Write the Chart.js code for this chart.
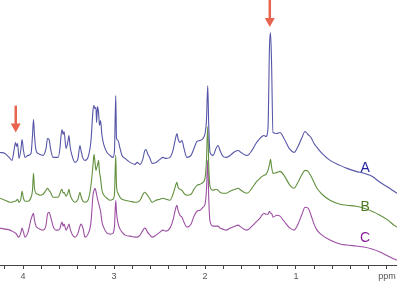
<!DOCTYPE html>
<html>
<head>
<meta charset="utf-8">
<script src="https://cdn.jsdelivr.net/npm/chart.js@4"></script>
<style>
  html, body { margin: 0; padding: 0; background: #fff; }
  #wrap { width: 397px; height: 283px; position: relative; }
</style>
</head>
<body>
<div id="wrap"><canvas id="nmr"></canvas></div>
<script>
// chemical shift grid (ppm), shared by the three spectra
var ppm = [
  4.253, 4.198, 4.143, 4.121, 4.099, 4.082, 4.071, 4.060, 4.044, 4.022,
  4.011, 3.995, 3.978, 3.945, 3.912, 3.896, 3.885, 3.874, 3.857, 3.835,
  3.813, 3.780, 3.747, 3.731, 3.714, 3.698, 3.670, 3.637, 3.615, 3.593,
  3.582, 3.571, 3.560, 3.549, 3.527, 3.505, 3.495, 3.484, 3.462, 3.429,
  3.396, 3.374, 3.363, 3.341, 3.319, 3.286, 3.253, 3.231, 3.220, 3.209,
  3.198, 3.192, 3.181, 3.170, 3.159, 3.148, 3.132, 3.110, 3.077, 3.044,
  3.011, 2.995, 2.981, 2.973, 2.956, 2.934, 2.912, 2.879, 2.824, 2.769,
  2.747, 2.714, 2.681, 2.665, 2.648, 2.632, 2.604, 2.582, 2.538, 2.495,
  2.462, 2.429, 2.385, 2.352, 2.319, 2.308, 2.297, 2.275, 2.253, 2.231,
  2.198, 2.154, 2.121, 2.088, 2.055, 2.022, 2.000, 1.984, 1.970, 1.959,
  1.945, 1.912, 1.879, 1.857, 1.835, 1.802, 1.769, 1.725, 1.670, 1.637,
  1.604, 1.571, 1.538, 1.484, 1.440, 1.396, 1.374, 1.352, 1.330, 1.308,
  1.291, 1.280, 1.269, 1.253, 1.209, 1.176, 1.132, 1.066, 1.022, 0.978,
  0.934, 0.901, 0.868, 0.835, 0.802, 0.769, 0.714, 0.626, 0.516, 0.440,
  0.341, 0.253, 0.165, 0.077, -0.011, -0.077, -0.110
];

// stacked intensities (arbitrary units, offsets included)
var specA = [
  113, 112, 107, 105, 115, 123, 119, 122, 107, 117,
  126, 115, 108, 110, 112, 130, 146, 130, 115, 112,
  111, 110, 117, 127, 126, 117, 108, 108, 108, 118,
  130, 136, 131, 134, 117, 125, 130, 120, 110, 103,
  107, 120, 115, 107, 105, 108, 125, 155, 160, 157,
  158, 143, 159, 153, 140, 145, 130, 120, 113, 110,
  108, 115, 170, 127, 125, 117, 110, 107, 103, 101,
  103, 101, 107, 114, 116, 112, 107, 102, 103, 106,
  108, 107, 108, 115, 129, 132, 127, 123, 125, 117,
  108, 110, 117, 124, 125, 127, 132, 145, 180, 140,
  113, 110, 117, 120, 115, 109, 108, 110, 114, 115,
  113, 111, 110, 115, 122, 127, 129, 130, 129, 137,
  220, 233, 205, 133, 132, 133, 127, 116, 113, 119,
  128, 134, 131, 128, 122, 118, 112, 105, 100, 97,
  94, 92, 89, 83, 78, 74, 72
];
var specB = [
  67, 65, 63, 63, 64, 64, 65, 66, 63, 67,
  74, 67, 64, 64, 68, 75, 92, 77, 72, 71,
  70, 71, 75, 77, 75, 73, 68, 68, 68, 72,
  75, 76, 72, 73, 69, 73, 76, 71, 66, 63,
  66, 73, 69, 64, 63, 65, 80, 100, 111, 103,
  95, 97, 100, 105, 93, 87, 75, 70, 67, 65,
  66, 71, 110, 80, 72, 68, 66, 65, 64, 63,
  63, 65, 71, 73, 72, 70, 66, 63, 65, 66,
  67, 66, 65, 71, 81, 83, 78, 76, 75, 72,
  70, 71, 76, 80, 81, 83, 87, 105, 139, 100,
  79, 75, 76, 75, 73, 72, 72, 74, 76, 77,
  75, 73, 72, 77, 83, 87, 89, 90, 91, 95,
  101, 106, 99, 92, 93, 94, 90, 80, 77, 83,
  91, 95, 94, 89, 83, 77, 71, 65, 61, 60,
  59, 57, 54, 50, 45, 40, 38
];
var specC = [
  37, 36, 35, 34, 33, 32, 31, 29, 28, 33,
  37, 33, 28, 33, 46, 50, 52, 45, 39, 37,
  36, 35, 40, 51, 53, 49, 39, 35, 35, 37,
  41, 43, 39, 41, 35, 39, 41, 37, 31, 28,
  32, 39, 41, 37, 28, 31, 43, 70, 75, 77,
  74, 71, 66, 62, 58, 54, 43, 37, 32, 31,
  32, 39, 65, 53, 42, 36, 33, 30, 29, 28,
  28, 30, 35, 37, 36, 33, 30, 28, 30, 33,
  35, 34, 37, 45, 58, 60, 55, 50, 48, 43,
  38, 41, 49, 54, 55, 58, 61, 75, 105, 67,
  44, 39, 39, 39, 37, 36, 35, 37, 39, 40,
  38, 36, 35, 39, 43, 47, 50, 52, 51, 51,
  54, 52, 52, 48, 50, 49, 44, 37, 35, 41,
  51, 58, 57, 50, 41, 35, 30, 25, 21, 20,
  19, 18, 16, 13, 9, 6, 5
];

var traceNames = ['A', 'B', 'C'];
var labelPpm = [0.24, 0.24, 0.24];
var labelLevel = [97, 58, 27];

// arrows marking signals: x in ppm, tail and tip levels
var arrowPpm = [4.08, 1.288];
var arrowTail = [160, 266];
var arrowTip = [133, 239];

var tickValues = [0, 0.2, 0.4, 0.6, 0.8, 1, 1.2, 1.4, 1.6, 1.8, 2, 2.2, 2.4, 2.6, 2.8, 3, 3.2, 3.4, 3.6, 3.8, 4, 4.2];
var tickLabels = { 0: 'ppm', 1: '1', 2: '2', 3: '3', 4: '4' };

var lineColors = ['#5656a8', '#62903f', '#9c4fa2'];
var textColors = ['#1f1fa0', '#4d7a22', '#861c96'];

function toPoints(ys) {
  return ppm.map(function (p, i) { return { x: p, y: ys[i] }; });
}

var annotate = {
  id: 'annotate',
  afterDatasetsDraw: function (chart) {
    var ctx = chart.ctx, xs = chart.scales.x, ys = chart.scales.y;
    ctx.save();
    ctx.font = '14px "Liberation Sans", Arial, sans-serif';
    ctx.textAlign = 'center';
    ctx.textBaseline = 'middle';
    traceNames.forEach(function (n, i) {
      ctx.fillStyle = textColors[i];
      ctx.fillText(n, xs.getPixelForValue(labelPpm[i]), ys.getPixelForValue(labelLevel[i]));
    });
    ctx.strokeStyle = '#e8644e';
    ctx.fillStyle = '#e8644e';
    ctx.lineWidth = 2.5;
    arrowPpm.forEach(function (p, i) {
      var x = xs.getPixelForValue(p);
      var y0 = ys.getPixelForValue(arrowTail[i]);
      var y1 = ys.getPixelForValue(arrowTip[i]);
      ctx.beginPath();
      ctx.moveTo(x, y0);
      ctx.lineTo(x, y1 - 8);
      ctx.stroke();
      ctx.beginPath();
      ctx.moveTo(x - 5, y1 - 9);
      ctx.lineTo(x + 5, y1 - 9);
      ctx.lineTo(x, y1);
      ctx.closePath();
      ctx.fill();
    });
    ctx.restore();
  }
};

var chart_nmr = new Chart(document.getElementById('nmr'), {
  type: 'line',
  data: {
    datasets: [specA, specB, specC].map(function (s, i) {
      return {
        label: traceNames[i],
        data: toPoints(s),
        borderColor: lineColors[i],
        borderWidth: 1.1,
        pointRadius: 0,
        cubicInterpolationMode: 'monotone',
        fill: false
      };
    })
  },
  options: {
    animation: false,
    responsive: true,
    maintainAspectRatio: false,
    layout: { padding: 0 },
    plugins: {
      legend: { display: false },
      tooltip: { enabled: false }
    },
    scales: {
      x: {
        type: 'linear',
        reverse: true,
        min: -0.11,
        max: 4.253,
        afterBuildTicks: function (scale) {
          scale.ticks = tickValues.map(function (v) { return { value: v }; });
        },
        afterFit: function (scale) { scale.height = 18; },
        ticks: {
          autoSkip: false,
          maxRotation: 0,
          padding: 2,
          color: '#555',
          font: { size: 9, family: '"Liberation Sans", Arial, sans-serif' },
          callback: function (value) {
            var k = Math.round(value * 10) / 10;
            return tickLabels.hasOwnProperty(k) ? tickLabels[k] : '';
          }
        },
        grid: {
          drawOnChartArea: false,
          drawTicks: true,
          tickLength: 4,
          color: '#444'
        },
        border: { display: true, color: '#444', width: 1 }
      },
      y: {
        display: false,
        min: 0,
        max: 266
      }
    }
  },
  plugins: [annotate, {
    id: 'whiteBg',
    beforeDraw: function (chart) {
      var ctx = chart.canvas.getContext('2d');
      ctx.save();
      ctx.globalCompositeOperation = 'destination-over';
      ctx.fillStyle = 'white';
      ctx.fillRect(0, 0, chart.canvas.width, chart.canvas.height);
      ctx.restore();
    }
  }]
});
</script>
</body>
</html>
